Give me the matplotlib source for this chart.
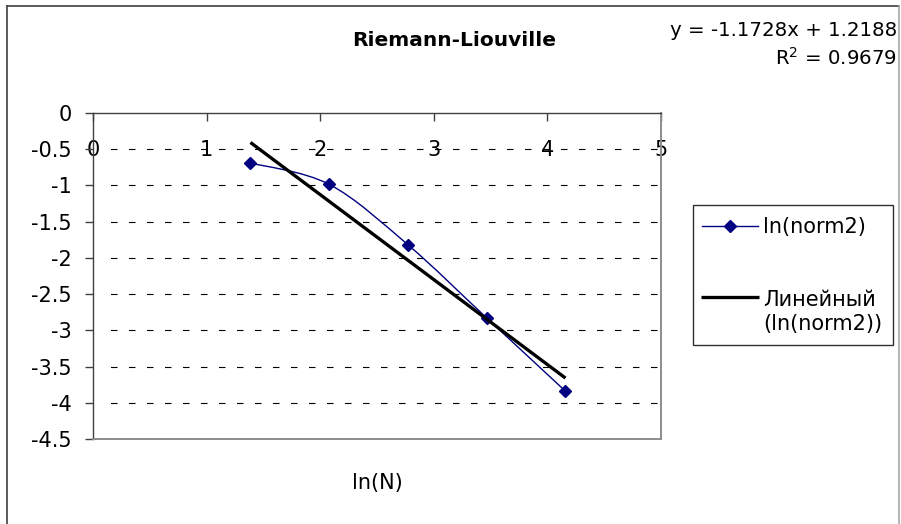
import numpy as np
import matplotlib
matplotlib.use("Agg")
import matplotlib.pyplot as plt
from matplotlib.path import Path
from matplotlib.patches import PathPatch, Rectangle
from matplotlib.lines import Line2D

# ---- data ---------------------------------------------------------------
ln_n = [1.386, 2.079, 2.773, 3.466, 4.159]
ln_norm2 = [-0.69, -0.985, -1.82, -2.83, -3.84]
trend_slope = -1.1728
trend_intercept = 1.2188
r_squared = 0.9679

x_ticks = [0, 1, 2, 3, 4, 5]
x_tick_labels = ["0", "1", "2", "3", "4", "5"]
y_ticks = [0, -0.5, -1, -1.5, -2, -2.5, -3, -3.5, -4, -4.5]
y_tick_labels = ["0", "-0.5", "-1", "-1.5", "-2", "-2.5", "-3", "-3.5", "-4", "-4.5"]

title_text = "Riemann-Liouville"
x_label_text = "ln(N)"
series_label = "ln(norm2)"
trend_label = "Линейный\n(ln(norm2))"

# ---- style --------------------------------------------------------------
plt.rcParams["font.family"] = ["DejaVu Sans"]
plt.rcParams["axes.unicode_minus"] = False
plt.rcParams["lines.scale_dashes"] = False

W, H = 901, 524
PX = 72.0 / 100.0  # points per pixel at dpi 100
NAVY = "#000080"
FS = 15


def fx(px):
    return px / W


def fy(py):
    return 1.0 - py / H


fig = plt.figure(figsize=(W / 100, H / 100), dpi=100)
fig.patch.set_facecolor("white")

# chart frame
fig.add_artist(Line2D([fx(6.5), fx(6.5)], [fy(6), fy(530)], color="#404040",
                      lw=1.2, transform=fig.transFigure))
fig.add_artist(Line2D([fx(6.5), fx(899)], [fy(6), fy(6)], color="#404040",
                      lw=1.2, transform=fig.transFigure))
fig.add_artist(Line2D([fx(899), fx(899)], [fy(6), fy(530)], color="#a8a8a8",
                      lw=1.2, transform=fig.transFigure))

ax = fig.add_axes([fx(93), fy(439), 568 / W, 326 / H])
ax.set_xlim(x_ticks[0], x_ticks[-1])
ax.set_ylim(y_ticks[-1], y_ticks[0])

# horizontal dashed gridlines
for v in y_ticks[1:-1]:
    ax.axhline(v, xmin=6.5 / 568, xmax=1, color="black", lw=0.8,
               linestyle=(7.5 * PX, (6.5 * PX, 11.5 * PX)), zorder=1)

# spines
for side in ("top", "left"):
    ax.spines[side].set_color("#404040")
    ax.spines[side].set_linewidth(1.0)
for side in ("right", "bottom"):
    ax.spines[side].set_color("#8c8c8c")
    ax.spines[side].set_linewidth(1.4)

# x axis sits at y = 0 (top edge), labels just below it
ax.set_xticks(x_ticks)
ax.set_xticklabels(x_tick_labels)
ax.xaxis.set_ticks_position("top")
ax.tick_params(axis="x", direction="in", length=8 * PX, width=1.0,
               color="#404040", labeltop=True, labelbottom=False,
               pad=-37 * PX, labelsize=FS, labelcolor="black")
for t in ax.xaxis.get_major_ticks():
    t.label2.set_verticalalignment("center")

ax.set_yticks(y_ticks)
ax.set_yticklabels(y_tick_labels)
ax.tick_params(axis="y", direction="out", length=8 * PX, width=1.0,
               color="#404040", pad=13 * PX, labelsize=FS)

# smoothed series line (cubic Bezier through the points)
pts = np.column_stack([ln_n, ln_norm2])
n = len(pts)
verts = [pts[0]]
codes = [Path.MOVETO]
for i in range(n - 1):
    p0 = pts[max(i - 1, 0)]
    p1 = pts[i]
    p2 = pts[i + 1]
    p3 = pts[min(i + 2, n - 1)]
    c1 = p1 + (p2 - p0) / 6.0
    c2 = p2 - (p3 - p1) / 6.0
    verts += [c1, c2, p2]
    codes += [Path.CURVE4] * 3
ax.add_patch(PathPatch(Path(verts, codes), fill=False, edgecolor=NAVY,
                       lw=1.0, zorder=3))
ax.plot(ln_n, ln_norm2, ls="none", marker="D", ms=6.6, color=NAVY,
        mec=NAVY, zorder=4)

# linear trendline
tx = np.array([min(ln_n), max(ln_n)])
ax.plot(tx, trend_slope * tx + trend_intercept, color="black", lw=3.3 * PX,
        zorder=5, solid_capstyle="butt")

# titles and trendline equation
fig.text(fx(454), fy(46.5), title_text, ha="center", va="baseline",
         fontsize=14.5, fontweight="bold")
fig.text(fx(377), fy(483), x_label_text, ha="center", va="center", fontsize=FS)
sign = "+" if trend_intercept >= 0 else "-"
fig.text(fx(897), fy(36), f"y = {trend_slope:.4f}x {sign} {abs(trend_intercept):.4f}",
         ha="right", va="baseline", fontsize=14.2)
fig.text(fx(897), fy(65), f"R$^2$ = {r_squared:.4f}", ha="right",
         va="baseline", fontsize=14.2)

# legend
fig.add_artist(Rectangle((fx(693), fy(345)), 200 / W, 140 / H, facecolor="white",
                         edgecolor="#303030", lw=1.0, transform=fig.transFigure))
fig.add_artist(Line2D([fx(702), fx(758)], [fy(226), fy(226)], color=NAVY, lw=1.0,
                      transform=fig.transFigure))
fig.add_artist(Line2D([fx(730)], [fy(226)], color=NAVY, ls="none", marker="D",
                      ms=6.6, transform=fig.transFigure))
fig.add_artist(Line2D([fx(701), fx(759)], [fy(297), fy(297)], color="black",
                      lw=3.3 * PX, solid_capstyle="butt", transform=fig.transFigure))
fig.text(fx(763), fy(227), series_label, ha="left", va="center", fontsize=FS)
fig.text(fx(763), fy(312), trend_label, ha="left", va="center", fontsize=FS,
         linespacing=1.2)

fig.savefig("out.png", dpi=100)
